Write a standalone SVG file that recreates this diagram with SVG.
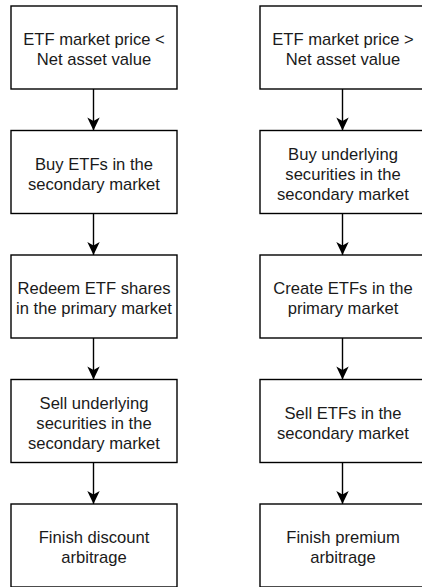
<svg xmlns="http://www.w3.org/2000/svg" width="422" height="587" viewBox="0 0 422 587">
<defs>
<style>
.box{fill:#ffffff;stroke:#000000;stroke-width:1.4}
.lbl{font-family:"Liberation Sans",Arial,Helvetica,sans-serif;font-size:16.6px;fill:#1a1a1a;text-anchor:middle}
.edge{stroke:#000000;stroke-width:1.4;fill:none;marker-end:url(#arr)}
</style>
<marker id="arr" markerUnits="userSpaceOnUse" markerWidth="14" markerHeight="14" viewBox="-14 -7 14 14" refX="0" refY="0" orient="auto">
<path d="M0,0 L-13,-6.2 L-9.5,0 L-13,6.2 Z" fill="#000000"/>
</marker>
</defs>
<rect width="422" height="587" fill="#ffffff"/>
<g id="connectors">
<line class="edge" x1="93.5" y1="89" x2="93.5" y2="130.5"/>
<line class="edge" x1="93.5" y1="213.5" x2="93.5" y2="255"/>
<line class="edge" x1="93.5" y1="338" x2="93.5" y2="379.5"/>
<line class="edge" x1="93.5" y1="462.5" x2="93.5" y2="504"/>
<line class="edge" x1="342.5" y1="89" x2="342.5" y2="130.5"/>
<line class="edge" x1="342.5" y1="213.5" x2="342.5" y2="255"/>
<line class="edge" x1="342.5" y1="338" x2="342.5" y2="379.5"/>
<line class="edge" x1="342.5" y1="462.5" x2="342.5" y2="504"/>
</g>
<g id="L1"><rect class="box" x="11" y="6" width="166" height="83"/>
<text class="lbl" x="94" y="45">ETF market price &lt;</text><text class="lbl" x="94" y="65">Net asset value</text></g>
<g id="L2"><rect class="box" x="11" y="130.5" width="166" height="83"/>
<text class="lbl" x="94" y="169.5">Buy ETFs in the</text><text class="lbl" x="94" y="189.5">secondary market</text></g>
<g id="L3"><rect class="box" x="11" y="255" width="166" height="83"/>
<text class="lbl" x="94" y="294">Redeem ETF shares</text><text class="lbl" x="94" y="314">in the primary market</text></g>
<g id="L4"><rect class="box" x="11" y="379.5" width="166" height="83"/>
<text class="lbl" x="94" y="408.5">Sell underlying</text><text class="lbl" x="94" y="428.5">securities in the</text><text class="lbl" x="94" y="448.5">secondary market</text></g>
<g id="L5"><rect class="box" x="11" y="504" width="166" height="83"/>
<text class="lbl" x="94" y="543">Finish discount</text><text class="lbl" x="94" y="563">arbitrage</text></g>
<g id="R1"><rect class="box" x="260" y="6" width="166" height="83"/>
<text class="lbl" x="343" y="45">ETF market price &gt;</text><text class="lbl" x="343" y="65">Net asset value</text></g>
<g id="R2"><rect class="box" x="260" y="130.5" width="166" height="83"/>
<text class="lbl" x="343" y="159.5">Buy underlying</text><text class="lbl" x="343" y="179.5">securities in the</text><text class="lbl" x="343" y="199.5">secondary market</text></g>
<g id="R3"><rect class="box" x="260" y="255" width="166" height="83"/>
<text class="lbl" x="343" y="294">Create ETFs in the</text><text class="lbl" x="343" y="314">primary market</text></g>
<g id="R4"><rect class="box" x="260" y="379.5" width="166" height="83"/>
<text class="lbl" x="343" y="418.5">Sell ETFs in the</text><text class="lbl" x="343" y="438.5">secondary market</text></g>
<g id="R5"><rect class="box" x="260" y="504" width="166" height="83"/>
<text class="lbl" x="343" y="543">Finish premium</text><text class="lbl" x="343" y="563">arbitrage</text></g>
</svg>
